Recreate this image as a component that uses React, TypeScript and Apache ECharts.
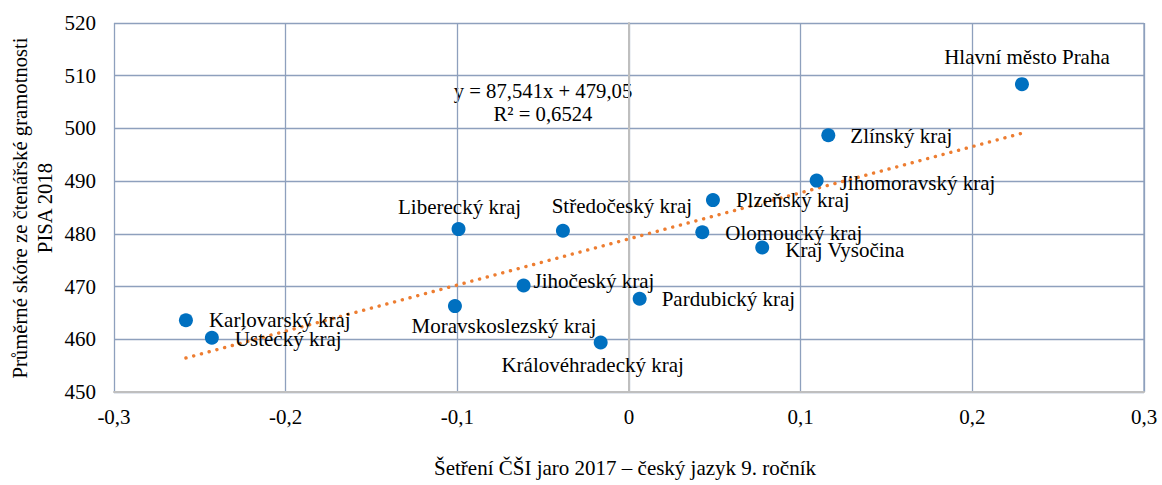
import React, { useEffect, useRef } from "react";
import * as echarts from "echarts";

const regions = [
  "Hlavní město Praha",
  "Zlínský kraj",
  "Jihomoravský kraj",
  "Plzeňský kraj",
  "Olomoucký kraj",
  "Kraj Vysočina",
  "Pardubický kraj",
  "Středočeský kraj",
  "Liberecký kraj",
  "Jihočeský kraj",
  "Moravskoslezský kraj",
  "Královéhradecký kraj",
  "Karlovarský kraj",
  "Ústecký kraj",
];
const csiScores = [0.2289, 0.1161, 0.1093, 0.0489, 0.0427, 0.0776, 0.0062, -0.0385, -0.0993, -0.0614, -0.1014, -0.0165, -0.2581, -0.243];
const pisaScores = [508.4, 498.7, 490.1, 486.4, 480.3, 477.4, 467.7, 480.6, 480.9, 470.2, 466.3, 459.4, 463.6, 460.3];
const trendSlope = 87.541;
const trendIntercept = 479.05;
const equationText = "y = 87,541x + 479,05";
const r2Text = "R² = 0,6524";
const xTitle = "Šetření ČŠI jaro 2017 – český jazyk 9. ročník";
const yTitle1 = "Průměrné skóre ze čtenářské gramotnosti";
const yTitle2 = "PISA 2018";

// label placement per region: [position, offsetX, offsetY]
const labelPlacement: [string, number, number][] = [
  ["top", 5, -5],
  ["right", 10, 1],
  ["right", 11, 2],
  ["right", 11, 0],
  ["right", 11, 1],
  ["right", 11, 2],
  ["right", 10, 0],
  ["top", 59, -2],
  ["top", 1, 0],
  ["right", -2, -5],
  ["bottom", 49, -3],
  ["bottom", -8, 0],
  ["right", 11, 0],
  ["right", 11, 1],
];

const FONT = "Liberation Serif";

export default function App() {
  const ref = useRef<HTMLDivElement>(null);
  useEffect(() => {
    if (!ref.current) return;
    const chart = echarts.init(ref.current, undefined, { renderer: "svg" });
    const xMin = Math.min(...csiScores);
    const xMax = Math.max(...csiScores);
    const fmt = (v: number) => {
      if (Math.abs(v) < 1e-9) return "0";
      return v.toFixed(1).replace(".", ",");
    };
    chart.setOption({
      animation: false,
      textStyle: { fontFamily: FONT },
      grid: { left: 114, right: 18, top: 23, bottom: 93 },
      xAxis: {
        type: "value",
        min: -0.3,
        max: 0.3,
        interval: 0.1,
        axisLine: { show: true, onZero: false, lineStyle: { color: "#BFBFBF", width: 2 } },
        axisTick: { show: false },
        axisLabel: { formatter: fmt, color: "#000", fontFamily: FONT, fontSize: 21, margin: 14 },
        splitLine: { show: true, lineStyle: { color: "#8EA0BD", width: 1.3 } },
      },
      yAxis: {
        type: "value",
        min: 450,
        max: 520,
        interval: 10,
        axisLine: { show: true, lineStyle: { color: "#BFBFBF", width: 2 } },
        axisTick: { show: false },
        axisLabel: { color: "#000", fontFamily: FONT, fontSize: 21, margin: 18 },
        splitLine: { show: true, lineStyle: { color: "#8EA0BD", width: 1.3 } },
      },
      graphic: [
        {
          type: "rect",
          shape: { x: 1144, y: 23, width: 0, height: 368 },
          style: { stroke: "#8EA0BD", lineWidth: 1.3, fill: "none" },
          silent: true,
        },
        {
          type: "text",
          x: 543,
          y: 91,
          style: { text: equationText, fontFamily: FONT, fontSize: 20.7, fill: "#000", textAlign: "center", textVerticalAlign: "middle" },
        },
        {
          type: "text",
          x: 543,
          y: 114,
          style: { text: r2Text, fontFamily: FONT, fontSize: 20.7, fill: "#000", textAlign: "center", textVerticalAlign: "middle" },
        },
        {
          type: "text",
          x: 625,
          y: 468,
          style: { text: xTitle, fontFamily: FONT, fontSize: 21, fill: "#000", textAlign: "center", textVerticalAlign: "middle" },
        },
        {
          type: "text",
          x: 20,
          y: 208,
          rotation: Math.PI / 2,
          style: { text: yTitle1, fontFamily: FONT, fontSize: 20.7, fill: "#000", textAlign: "center", textVerticalAlign: "middle" },
        },
        {
          type: "text",
          x: 45,
          y: 208,
          rotation: Math.PI / 2,
          style: { text: yTitle2, fontFamily: FONT, fontSize: 20.7, fill: "#000", textAlign: "center", textVerticalAlign: "middle" },
        },
      ],
      series: [
        {
          type: "line",
          data: [
            [xMin, trendSlope * xMin + trendIntercept],
            [xMax, trendSlope * xMax + trendIntercept],
          ],
          showSymbol: false,
          symbol: "none",
          lineStyle: { color: "#ED7D31", width: 3.4, type: [0.1, 7.9], cap: "round" },
          z: 3,
          silent: true,
        },
        {
          type: "scatter",
          symbolSize: 14,
          itemStyle: { color: "#0070C0", opacity: 1 },
          z: 4,
          data: regions.map((name, i) => ({
            name,
            value: [csiScores[i], pisaScores[i]],
            label: {
              show: true,
              formatter: name,
              position: labelPlacement[i][0],
              offset: [labelPlacement[i][1], labelPlacement[i][2]],
              distance: 5,
              color: "#000",
              fontFamily: FONT,
              fontSize: 21,
            },
          })),
        },
      ],
    });
    return () => chart.dispose();
  }, []);
  return <div ref={ref} style={{ position: "absolute", left: 0, top: 0, width: 1162, height: 485, background: "#fff" }} />;
}
